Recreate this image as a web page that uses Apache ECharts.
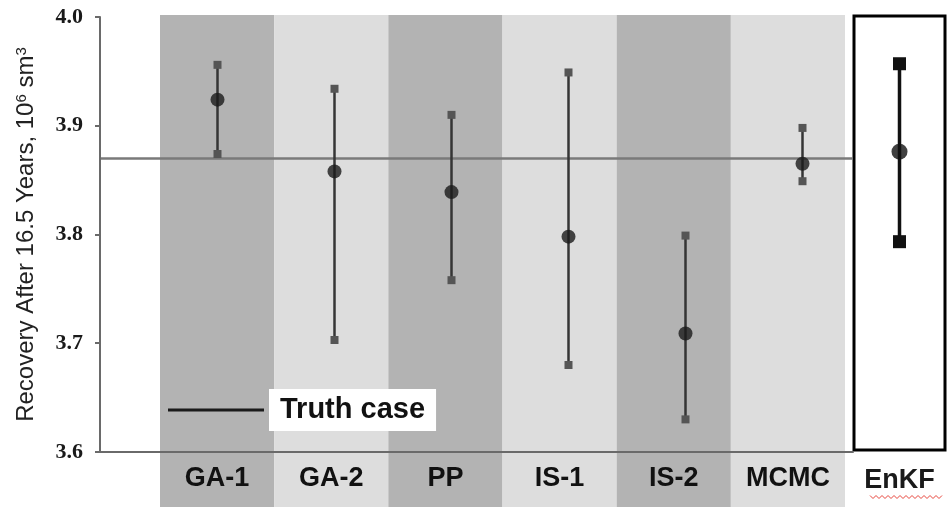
<!DOCTYPE html>
<html>
<head>
<meta charset="utf-8">
<title>Recovery after 16.5 years by method</title>
<script src="https://cdn.jsdelivr.net/npm/echarts@6/dist/echarts.min.js"></script>
<style>
  html, body { margin: 0; padding: 0; background: #ffffff; }
  #chart { width: 948px; height: 518px; }
</style>
</head>
<body>
<div id="chart"></div>
<script>
// Calibration methods and their predicted recovery (10^6 sm3): mean with low/high range
const methods = ['GA-1', 'GA-2', 'PP', 'IS-1', 'IS-2', 'MCMC'];
const meanRecovery = [3.924, 3.858, 3.839, 3.798, 3.709, 3.865];
const highRecovery = [3.956, 3.934, 3.910, 3.949, 3.799, 3.898];
const lowRecovery  = [3.874, 3.703, 3.758, 3.680, 3.630, 3.849];

// Ensemble Kalman filter result, shown in its own framed panel
const enkfMethod = ['EnKF'];
const enkfMean = [3.875];
const enkfHigh = [3.956];
const enkfLow  = [3.792];

// Reference value of the true model
const truthRecovery = 3.87;

// Recovery axis range and tick step
const yMin = 3.6, yMax = 4.0, yStep = 0.1;

const sans = 'Liberation Sans, Arial, sans-serif';
const serif = 'Liberation Serif, Times New Roman, serif';

function rangeRenderer(lineColor, lineWidth, capColor, capSize) {
  return function (params, api) {
    const i = api.value(0);
    const hi = api.coord([i, api.value(2)]);
    const lo = api.coord([i, api.value(3)]);
    const h = capSize / 2;
    return {
      type: 'group',
      children: [
        { type: 'line', shape: { x1: hi[0], y1: hi[1], x2: lo[0], y2: lo[1] },
          style: { stroke: lineColor, lineWidth: lineWidth } },
        { type: 'rect', shape: { x: hi[0] - h, y: hi[1] - h, width: capSize, height: capSize },
          style: { fill: capColor } },
        { type: 'rect', shape: { x: lo[0] - h, y: lo[1] - h, width: capSize, height: capSize },
          style: { fill: capColor } }
      ]
    };
  };
}

const chart = echarts.init(document.getElementById('chart'), null, { renderer: 'canvas' });

const hiddenY = (gridIndex) => ({
  type: 'value', gridIndex: gridIndex, min: yMin, max: yMax, interval: yStep,
  axisLine: { show: false }, axisTick: { show: false },
  axisLabel: { show: false }, splitLine: { show: false }
});

chart.setOption({
  animation: false,
  backgroundColor: '#ffffff',
  grid: [
    { left: 100, top: 17, width: 753, height: 435 },          // frame with axes and truth line
    { left: 160, top: 15, width: 685, height: 492 },          // shaded method bands
    { left: 159, top: 17, width: 702, height: 435 },          // method ranges
    { left: 854, top: 16, width: 91, height: 434, show: true, // EnKF panel
      backgroundColor: '#ffffff', borderColor: '#000000', borderWidth: 3 }
  ],
  legend: {
    data: ['Truth case'],
    left: 168, top: 389, padding: 0,
    icon: 'rect', itemWidth: 96, itemHeight: 3,
    selectedMode: false,
    textStyle: {
      fontFamily: sans, fontWeight: 'bold', fontSize: 29, color: '#111111',
      backgroundColor: '#ffffff', padding: [6, 11, 7, 11]
    }
  },
  xAxis: [
    { type: 'value', gridIndex: 0, min: 0, max: 1, z: 10,
      axisLine: { show: true, lineStyle: { color: '#6a6a6a', width: 2 } },
      axisTick: { show: false }, axisLabel: { show: false }, splitLine: { show: false } },
    { type: 'category', gridIndex: 1, data: methods, boundaryGap: true,
      axisLine: { show: false }, axisTick: { show: false }, splitLine: { show: false },
      axisLabel: { inside: true, margin: 15, fontFamily: sans, fontWeight: 'bold',
                   fontSize: 27, color: '#111111' } },
    { type: 'category', gridIndex: 2, data: methods, boundaryGap: true,
      axisLine: { show: false }, axisTick: { show: false }, axisLabel: { show: false } },
    { type: 'category', gridIndex: 3, data: enkfMethod, boundaryGap: true,
      axisLine: { show: false }, axisTick: { show: false },
      axisLabel: { margin: 17, fontFamily: sans, fontWeight: 'bold', fontSize: 27, color: '#1a1a1a' } }
  ],
  yAxis: [
    { type: 'value', gridIndex: 0, min: yMin, max: yMax, interval: yStep, z: 10,
      name: '{t|Recovery After 16.5 Years, 10}{s|6}{t| sm}{s|3}',
      nameLocation: 'middle', nameGap: 62,
      nameTextStyle: {
        rich: {
          t: { fontFamily: sans, fontSize: 24, color: '#222222' },
          s: { fontFamily: sans, fontSize: 15, color: '#222222', verticalAlign: 'top' }
        }
      },
      axisLine: { show: true, lineStyle: { color: '#6a6a6a', width: 2 } },
      axisTick: { show: true, length: 5, lineStyle: { color: '#6a6a6a', width: 2 } },
      axisLabel: { margin: 17, fontFamily: serif, fontWeight: 'bold', fontSize: 22, color: '#1a1a1a',
                   formatter: (v) => v.toFixed(1) },
      splitLine: { show: false } },
    { type: 'value', gridIndex: 1, min: 0, max: 1, show: false },
    hiddenY(2),
    hiddenY(3)
  ],
  series: [
    {
      name: 'bands', type: 'bar', xAxisIndex: 1, yAxisIndex: 1, z: 0,
      barWidth: '100%', barCategoryGap: 0, silent: true,
      data: methods.map((m, i) => ({
        value: 1,
        itemStyle: { color: i % 2 === 0 ? '#b3b3b3' : '#dddddd' }
      }))
    },
    {
      name: 'Truth case', type: 'line', xAxisIndex: 0, yAxisIndex: 0, z: 5,
      data: [], color: '#1a1a1a', itemStyle: { color: '#1a1a1a' },
      markLine: {
        silent: true, symbol: 'none', label: { show: false },
        lineStyle: { color: '#7a7a7a', width: 2.5, type: 'solid' },
        data: [{ yAxis: truthRecovery }]
      }
    },
    {
      name: 'range', type: 'custom', xAxisIndex: 2, yAxisIndex: 2, z: 6,
      renderItem: rangeRenderer('#353535', 2.5, '#555555', 8),
      encode: { x: 0, y: [1, 2, 3] },
      data: methods.map((m, i) => [i, meanRecovery[i], highRecovery[i], lowRecovery[i]])
    },
    {
      name: 'mean', type: 'scatter', xAxisIndex: 2, yAxisIndex: 2, z: 7,
      symbol: 'circle', symbolSize: 14, itemStyle: { color: '#1a1a1a' },
      data: meanRecovery
    },
    {
      name: 'enkfRange', type: 'custom', xAxisIndex: 3, yAxisIndex: 3, z: 6,
      renderItem: rangeRenderer('#111111', 3.5, '#111111', 13),
      encode: { x: 0, y: [1, 2, 3] },
      data: enkfMethod.map((m, i) => [i, enkfMean[i], enkfHigh[i], enkfLow[i]])
    },
    {
      name: 'enkfMean', type: 'scatter', xAxisIndex: 3, yAxisIndex: 3, z: 7,
      symbol: 'circle', symbolSize: 16, itemStyle: { color: '#111111' },
      data: enkfMean
    }
  ]
});

// Red wavy spell-check underline beneath the EnKF label
(function () {
  const rect = chart.getModel().getComponent('grid', 3).coordinateSystem.getRect();
  const x0 = rect.x + 16, x1 = rect.x + rect.width - 2, y = rect.y + rect.height + 47;
  const pts = [];
  let up = true;
  for (let x = x0; x <= x1; x += 3) { pts.push([x, up ? y - 1.5 : y + 1.5]); up = !up; }
  chart.setOption({
    graphic: [{ type: 'polyline', shape: { points: pts }, style: { stroke: '#e8453c', lineWidth: 1, fill: null }, silent: true }]
  });
})();
</script>
</body>
</html>
